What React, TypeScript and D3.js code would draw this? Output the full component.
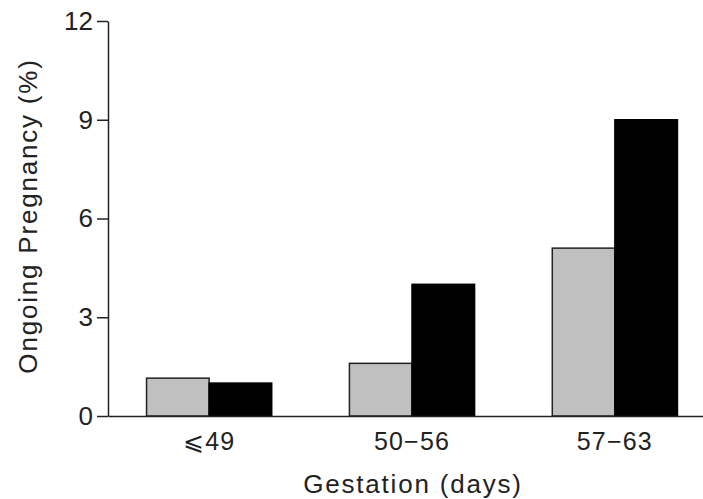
import React, { useRef, useEffect } from 'react';
import * as d3 from 'd3';

const categories = ['\u2A7D49', '50\u221256', '57\u221263'];
const seriesA = [1.15, 1.6, 5.1];
const seriesB = [1.0, 4.0, 9.0];
const yTicks = [0, 3, 6, 9, 12];

const W = 703;
const H = 499;

const App = () => {
  const svgRef = useRef<SVGSVGElement>(null);

  useEffect(() => {
    d3.select(svgRef.current).selectAll('*').remove();

    const svg = d3.select(svgRef.current)
      .attr('width', W)
      .attr('height', H);

    const font = '"Liberation Sans", Arial, sans-serif';
    const x0 = 108;
    const y0 = 416;

    const xScale = d3.scaleBand()
      .domain(categories)
      .range([x0, 716])
      .paddingInner(0.383)
      .paddingOuter(0.19);

    const xSub = d3.scaleBand()
      .domain(['a', 'b'])
      .range([0, xScale.bandwidth()]);

    const yScale = d3.scaleLinear()
      .domain([0, 12])
      .range([y0, 21]);

    // bars
    const groups = svg.append('g')
      .selectAll('g')
      .data(categories)
      .enter()
      .append('g')
      .attr('transform', d => `translate(${xScale(d)},0)`);

    groups.append('rect')
      .attr('x', xSub('a')!)
      .attr('y', (d, i) => yScale(seriesA[i]))
      .attr('width', xSub.bandwidth())
      .attr('height', (d, i) => y0 - yScale(seriesA[i]))
      .attr('fill', '#c0c0c0')
      .attr('stroke', '#222')
      .attr('stroke-width', 1.5);

    groups.append('rect')
      .attr('x', xSub('b')!)
      .attr('y', (d, i) => yScale(seriesB[i]))
      .attr('width', xSub.bandwidth())
      .attr('height', (d, i) => y0 - yScale(seriesB[i]))
      .attr('fill', '#000')
      .attr('stroke', '#000')
      .attr('stroke-width', 1.5);

    // y axis
    const yAxis = svg.append('g')
      .attr('transform', `translate(${x0},0)`)
      .call(d3.axisLeft(yScale).tickValues(yTicks).tickSize(11).tickPadding(4).tickSizeOuter(0));
    yAxis.select('.domain').attr('stroke', '#222').attr('stroke-width', 1.5);
    yAxis.selectAll('.tick line').attr('stroke', '#222').attr('stroke-width', 1.5);
    yAxis.selectAll('.tick text')
      .attr('fill', '#222')
      .style('font-family', font)
      .style('font-size', '26px');

    // x axis
    const xAxis = svg.append('g')
      .attr('transform', `translate(0,${y0})`)
      .call(d3.axisBottom(xScale).tickSize(0).tickPadding(16).tickSizeOuter(0));
    xAxis.select('.domain').attr('stroke', '#222').attr('stroke-width', 1.5);
    xAxis.selectAll('.tick text')
      .attr('fill', '#222')
      .style('font-family', font)
      .style('font-size', '25px')
      .style('letter-spacing', '1.2px');

    // axis titles
    svg.append('text')
      .attr('x', 413)
      .attr('y', 493)
      .attr('text-anchor', 'middle')
      .attr('fill', '#222')
      .style('font-family', font)
      .style('font-size', '26px')
      .style('letter-spacing', '1.8px')
      .text('Gestation (days)');

    svg.append('text')
      .attr('transform', 'translate(37,216) rotate(-90)')
      .attr('text-anchor', 'middle')
      .attr('fill', '#222')
      .style('font-family', font)
      .style('font-size', '26px')
      .style('letter-spacing', '1.8px')
      .text('Ongoing Pregnancy (%)');
  }, []);

  return (
    <svg ref={svgRef} style={{ position: 'absolute', left: 0, top: 0, background: '#fff' }}></svg>
  );
};

export default App;
